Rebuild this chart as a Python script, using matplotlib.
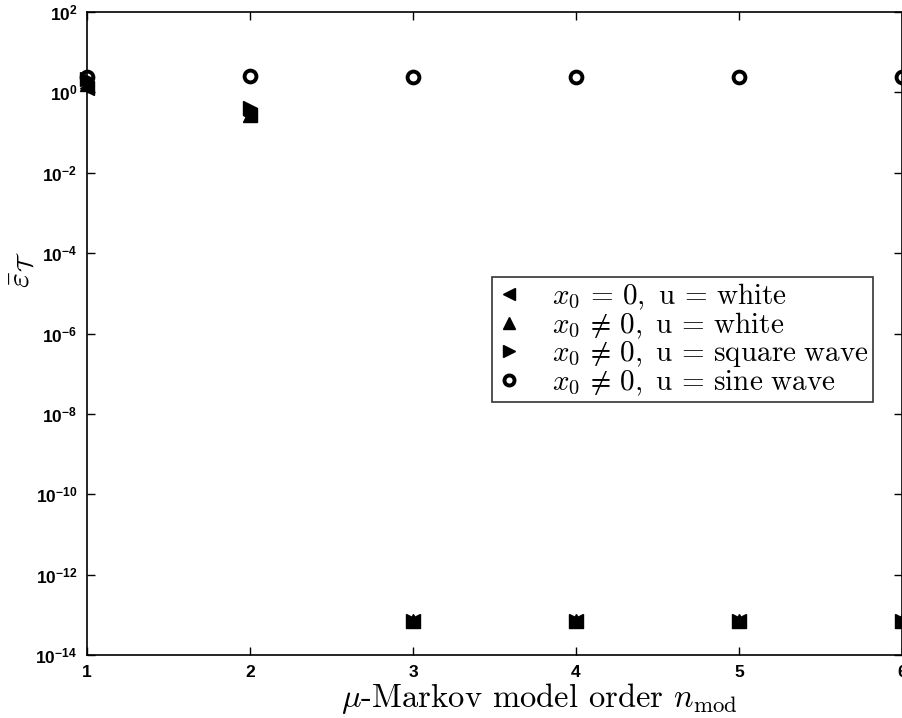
import numpy as np
import matplotlib
matplotlib.use('Agg')
import matplotlib.pyplot as plt
from matplotlib.ticker import NullLocator

plt.rcParams['mathtext.fontset'] = 'cm'
plt.rcParams['font.family'] = 'Liberation Sans'

# model orders
n_mod = [1, 2, 3, 4, 5, 6]
# mean error per case
err_zero_white = [1.3, 0.27, 7e-14, 7e-14, 7e-14, 7e-14]
err_nz_white = [1.6, 0.27, 7e-14, 7e-14, 7e-14, 7e-14]
err_nz_square = [2.2, 0.42, 7e-14, 7e-14, 7e-14, 7e-14]
err_nz_sine = [2.4, 2.5, 2.4, 2.4, 2.4, 2.4]

labels = [r'$x_0 \,=\, 0,\ \mathrm{u} \,=\, \mathrm{white}$',
          r'$x_0 \,\neq\, 0,\ \mathrm{u} \,=\, \mathrm{white}$',
          r'$x_0 \,\neq\, 0,\ \mathrm{u} \,=\, \mathrm{square\ wave}$',
          r'$x_0 \,\neq\, 0,\ \mathrm{u} \,=\, \mathrm{sine\ wave}$']

fig = plt.figure(figsize=(9.03, 7.18), dpi=100)
ax = fig.add_axes([87/903, 1-655/718, 815/903, 643/718])

ax.plot(n_mod, err_zero_white, '<', color='k', markersize=10, linestyle='none', clip_on=False, label=labels[0])
ax.plot(n_mod, err_nz_white, '^', color='k', markersize=10, linestyle='none', clip_on=False, label=labels[1])
ax.plot(n_mod, err_nz_square, '>', color='k', markersize=10, linestyle='none', clip_on=False, label=labels[2])
ax.plot(n_mod, err_nz_sine, 'o', markerfacecolor='none', markeredgecolor='k', markeredgewidth=2.8,
        markersize=8.5, linestyle='none', clip_on=False, label=labels[3])

ax.set_yscale('log')
ax.set_xlim(1, 6)
ax.set_ylim(1e-14, 1e2)
ax.set_yticks([10.0**k for k in range(-14, 3, 2)])
ax.yaxis.set_minor_locator(NullLocator())
ax.set_xticks(n_mod)
ax.tick_params(direction='in', top=True, right=True, length=6, width=1, labelsize=12.5, pad=7)
for lab in ax.get_xticklabels() + ax.get_yticklabels():
    lab.set_fontweight('bold')
for sp in ax.spines.values():
    sp.set_linewidth(1.2)

ax.set_xlabel(r'$\mu\text{-Markov model order }n_{\mathrm{mod}}$', fontsize=23.5)
ax.xaxis.set_label_coords((539 - 87) / 815, -26 / 643)
ax.xaxis.label.set_va('top')
fig.text(22 / 903, 1 - 270 / 718, r'$\bar{\varepsilon}_{\mathcal{T}}$', fontsize=23,
         rotation=90, ha='center', va='center')

leg = ax.legend(loc='upper left', bbox_to_anchor=(492/903, 1 - 277/718), bbox_transform=fig.transFigure,
                fontsize=21, frameon=True, fancybox=False, edgecolor='k', handlelength=0.9,
                handletextpad=1.0, labelspacing=-0.05, borderpad=0.15, borderaxespad=0, markerscale=0.85)
leg.get_frame().set_linewidth(1.2)

plt.savefig('out.png', dpi=100)
